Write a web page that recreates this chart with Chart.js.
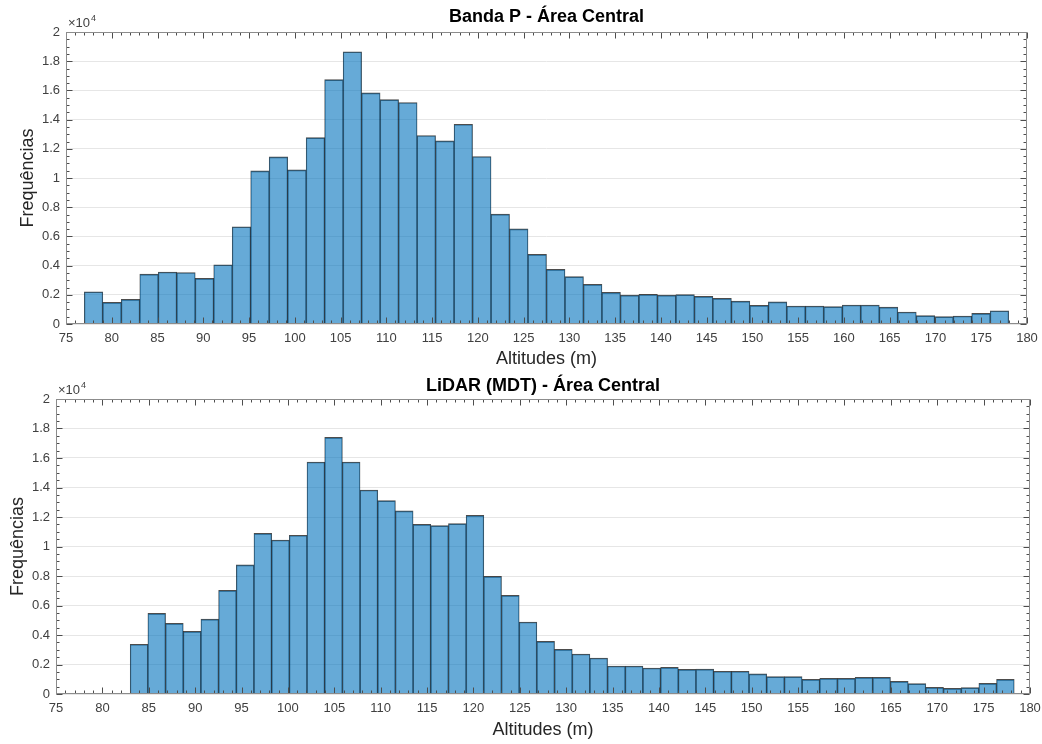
<!DOCTYPE html>
<html>
<head>
<meta charset="utf-8">
<script src="https://cdn.jsdelivr.net/npm/chart.js@4.4.1/dist/chart.umd.min.js"></script>
<style>
  body { margin: 0; background: #fff; width: 1042px; height: 744px; overflow: hidden; position: relative; }
  canvas { position: absolute; left: 0; }
</style>
</head>
<body>
<canvas id="histBandaP" width="1042" height="370" style="top:0"></canvas>
<canvas id="histLidar" width="1042" height="374" style="top:370px"></canvas>
<script>
// histogramas de altitude (contagem por classe)
const bandaPStart = 77.0;
const bandaPWidth = 2.02;
const bandaPFreq = [
  2210, 1480, 1690, 3420, 3560, 3530, 3120, 4060, 6660, 10490,
  11450, 10560, 12770, 16740, 18650, 15830, 15370, 15170, 12910, 12540,
  13680, 11470, 7530, 6520, 4770, 3740, 3240, 2710, 2170, 1980,
  2030, 1980, 2010, 1890, 1760, 1570, 1280, 1510, 1230, 1230,
  1190, 1300, 1300, 1160, 820, 570, 500, 550, 730, 910
];

const lidarStart = 83.0;
const lidarWidth = 1.906;
const lidarFreq = [
  3370, 5470, 4790, 4250, 5080, 7030, 8750, 10890, 10440, 10760,
  15730, 17400, 15730, 13830, 13110, 12410, 11500, 11410, 11550, 12110,
  7980, 6690, 4880, 3570, 3030, 2710, 2440, 1900, 1900, 1760,
  1810, 1670, 1690, 1540, 1540, 1360, 1180, 1180, 990, 1060,
  1060, 1130, 1130, 860, 700, 450, 380, 430, 720, 990
];

const xTicksMin = 75, xTicksMax = 180;
const yMax = 20000;

const fontFamily = "'Liberation Sans', Arial, Helvetica, sans-serif";

// centros das classes a partir do início e da largura
function toPoints(start, width, freq) {
  return freq.map((v, i) => ({ x: start + width * (i + 0.5), y: v }));
}

// moldura, marcas internas e o multiplicador x10^4 no estilo MATLAB
const axesBox = {
  id: 'axesBox',
  afterDatasetsDraw(chart) {
    const { ctx, chartArea: a, scales: { x, y } } = chart;
    const L = Math.round(a.left) + 0.5, R = Math.round(a.right) - 0.5;
    const T = Math.round(a.top) + 0.5, B = Math.round(a.bottom) - 0.5;
    ctx.save();
    ctx.lineWidth = 1;
    ctx.strokeStyle = '#4d4d4d';
    ctx.beginPath();
    for (let v = xTicksMin; v <= xTicksMax; v += 1) {
      const px = Math.round(x.getPixelForValue(v)) + 0.5;
      const len = v % 5 === 0 ? 6 : 3;
      ctx.moveTo(px, B); ctx.lineTo(px, B - len);
      ctx.moveTo(px, T); ctx.lineTo(px, T + len);
    }
    for (let v = 0; v <= yMax; v += 500) {
      const py = Math.round(y.getPixelForValue(v)) + 0.5;
      const len = v % 2000 === 0 ? 6 : 3;
      ctx.moveTo(L, py); ctx.lineTo(L + len, py);
      ctx.moveTo(R, py); ctx.lineTo(R - len, py);
    }
    ctx.stroke();
    ctx.strokeStyle = '#8c8c8c';
    ctx.strokeRect(L, T, R - L, B - T);

    ctx.fillStyle = '#404040';
    ctx.textBaseline = 'alphabetic';
    ctx.font = '13px ' + fontFamily;
    ctx.fillText('\u00d710', a.left + 2, a.top - 5);
    const w = ctx.measureText('\u00d710').width;
    ctx.font = '9px ' + fontFamily;
    ctx.fillText('4', a.left + 2 + w + 1, a.top - 11);
    ctx.restore();
  }
};

function makeHist(canvasId, title, points, geom) {
  return new Chart(document.getElementById(canvasId), {
    type: 'bar',
    data: {
      datasets: [{
        data: points,
        backgroundColor: 'rgba(0, 114, 189, 0.6)',
        borderColor: 'rgba(0, 0, 0, 0.7)',
        borderWidth: { left: 0.6, right: 0.6, top: 1, bottom: 0 },
        borderSkipped: false,
        barPercentage: 1,
        categoryPercentage: 1,
        grouped: false
      }]
    },
    options: {
      responsive: false,
      animation: false,
      layout: { padding: { left: 0, right: geom.padRight, top: 0, bottom: 0 } },
      plugins: {
        legend: { display: false },
        tooltip: { enabled: false },
        title: {
          display: true,
          text: title,
          fullSize: false,
          color: '#000',
          font: { family: fontFamily, size: 18, weight: 'bold' },
          padding: { top: geom.titleTop, bottom: geom.titleBottom }
        }
      },
      scales: {
        x: {
          type: 'linear',
          min: xTicksMin,
          max: xTicksMax,
          offset: false,
          grid: { display: false, drawTicks: false },
          border: { display: false },
          ticks: {
            stepSize: 5,
            autoSkip: false,
            maxRotation: 0,
            padding: 7,
            color: '#404040',
            font: { family: fontFamily, size: 13 }
          },
          title: {
            display: true,
            text: 'Altitudes (m)',
            color: '#262626',
            font: { family: fontFamily, size: 18 },
            padding: { top: 0, bottom: geom.xTitleBottom }
          },
          afterFit(s) {
            s.height = geom.xAxisH;
            s.paddingLeft = 0;
            s.paddingRight = 0;
          }
        },
        y: {
          min: 0,
          max: yMax,
          grid: { color: '#e6e6e6', drawTicks: false },
          border: { display: false },
          ticks: {
            stepSize: 2000,
            padding: 6,
            color: '#404040',
            font: { family: fontFamily, size: 13 },
            callback: v => String(+(v / 1e4).toFixed(1))
          },
          title: {
            display: true,
            text: 'Frequências',
            color: '#262626',
            font: { family: fontFamily, size: 18 },
            padding: { top: geom.yTitleLeft, bottom: 0 }
          },
          afterFit(s) {
            s.width = geom.yAxisW;
            s.paddingTop = 0;
            s.paddingBottom = 0;
          }
        }
      }
    },
    plugins: [axesBox]
  });
}

makeHist('histBandaP', 'Banda P - Área Central',
  toPoints(bandaPStart, bandaPWidth, bandaPFreq),
  { padRight: 15, titleTop: 6, titleBottom: 4.4, xAxisH: 46, xTitleBottom: 0, yAxisW: 66, yTitleLeft: 17 });

makeHist('histLidar', 'LiDAR (MDT) - Área Central',
  toPoints(lidarStart, lidarWidth, lidarFreq),
  { padRight: 12, titleTop: 5, titleBottom: 2.4, xAxisH: 50, xTitleBottom: 3, yAxisW: 56, yTitleLeft: 7 });
</script>
</body>
</html>
